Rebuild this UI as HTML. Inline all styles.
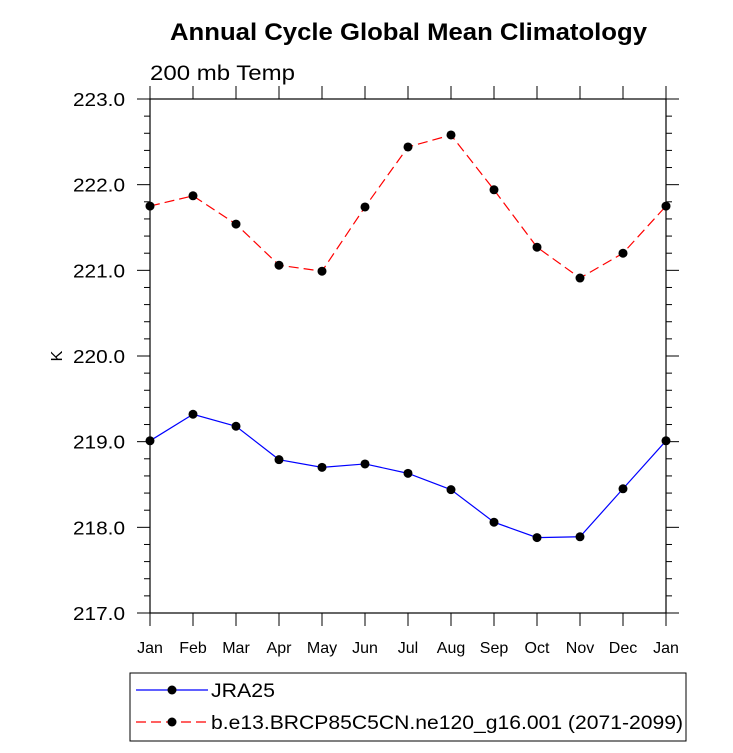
<!DOCTYPE html>
<html><head><meta charset="utf-8"><style>
html,body{margin:0;padding:0;background:#fff;}
svg text{font-family:"Liberation Sans",Arial,sans-serif;}
</style></head><body>
<svg id="chart" width="733" height="748" xmlns="http://www.w3.org/2000/svg">
<text x="170" y="40" font-size="24" font-weight="bold" textLength="477" lengthAdjust="spacingAndGlyphs">Annual Cycle Global Mean Climatology</text>
<text x="150" y="80" font-size="21" textLength="145" lengthAdjust="spacingAndGlyphs">200 mb Temp</text>
<text x="62" y="356" font-size="16" text-anchor="middle" transform="rotate(-90 62 356)">K</text>
<g id="axes"></g>
<g id="series"></g>
<rect x="130" y="673" width="556" height="68" fill="none" stroke="#000" stroke-width="1"/>
<line x1="136" y1="690" x2="208" y2="690" stroke="#0000ff" stroke-width="1.2"/>
<circle cx="172" cy="690" r="4.5" fill="#000"/>
<text x="211" y="697" font-size="19" textLength="64" lengthAdjust="spacingAndGlyphs">JRA25</text>
<line x1="136" y1="722" x2="208" y2="722" stroke="#ff0000" stroke-width="1.2" stroke-dasharray="10,5"/>
<circle cx="172" cy="722" r="4.5" fill="#000"/>
<text x="211" y="729" font-size="19" textLength="472" lengthAdjust="spacingAndGlyphs">b.e13.BRCP85C5CN.ne120_g16.001 (2071-2099)</text>
</svg>
<script>
const months = ["Jan","Feb","Mar","Apr","May","Jun","Jul","Aug","Sep","Oct","Nov","Dec","Jan"];
const jra25 = [219.01,219.32,219.18,218.79,218.70,218.74,218.63,218.44,218.06,217.88,217.89,218.45,219.01];
const model = [221.75,221.87,221.54,221.06,220.99,221.74,222.44,222.58,221.94,221.27,220.91,221.20,221.75];
const yTicks = [217,218,219,220,221,222,223];
const yTickLabels = ["217.0","218.0","219.0","220.0","221.0","222.0","223.0"];

const L=150,R=666,T=99,B=613,yMin=217,yMax=223;
const xs=i=>L+(R-L)*i/(months.length-1);
const ys=v=>B-(v-yMin)/(yMax-yMin)*(B-T);
const NS="http://www.w3.org/2000/svg";
function mk(tag,attrs,parent){const e=document.createElementNS(NS,tag);for(const k in attrs)e.setAttribute(k,attrs[k]);parent.appendChild(e);return e;}
const ax=document.getElementById('axes'), sr=document.getElementById('series');
const frame=mk('rect',{x:L,y:T,width:R-L,height:B-T,fill:'none',stroke:'#000','stroke-width':1.2},ax);


for(let v=yMin; v<=yMax+1e-9; v+=0.2){
  const y=ys(v); const major=Math.abs(v-Math.round(v))<1e-6; const len=major?13:6;
  mk('line',{x1:L,y1:y,x2:L-len,y2:y,stroke:'#000','stroke-width':1},ax);
  mk('line',{x1:R,y1:y,x2:R+len,y2:y,stroke:'#000','stroke-width':1},ax);
}
yTicks.forEach((v,i)=>{
  const t=mk('text',{x:125,y:ys(v)+7,'font-size':18,'text-anchor':'end',textLength:52,lengthAdjust:'spacingAndGlyphs'},ax);
  t.textContent=yTickLabels[i];
  
  
});
months.forEach((m,i)=>{
  const x=xs(i);
  mk('line',{x1:x,y1:B,x2:x,y2:B+13,stroke:'#000','stroke-width':1},ax);
  mk('line',{x1:x,y1:T,x2:x,y2:T-13,stroke:'#000','stroke-width':1},ax);
  const t=mk('text',{x:x,y:B+40,'font-size':16,'text-anchor':'middle'},ax);
  t.textContent=m;
  
  
});
function drawSeries(vals,color,dash,name){
  const pl=mk('polyline',{points:vals.map((v,i)=>xs(i)+','+ys(v)).join(' '),fill:'none',stroke:color,'stroke-width':1.2,'stroke-dasharray':dash},sr);
  
  
  vals.forEach((v,i)=>{
    const c=mk('circle',{cx:xs(i),cy:ys(v),r:4.5,fill:'#000'},sr);
    
    
  });
}
drawSeries(jra25,'#0000ff','none','jra25');
drawSeries(model,'#ff0000','10,5','model');
</script>
</body></html>
